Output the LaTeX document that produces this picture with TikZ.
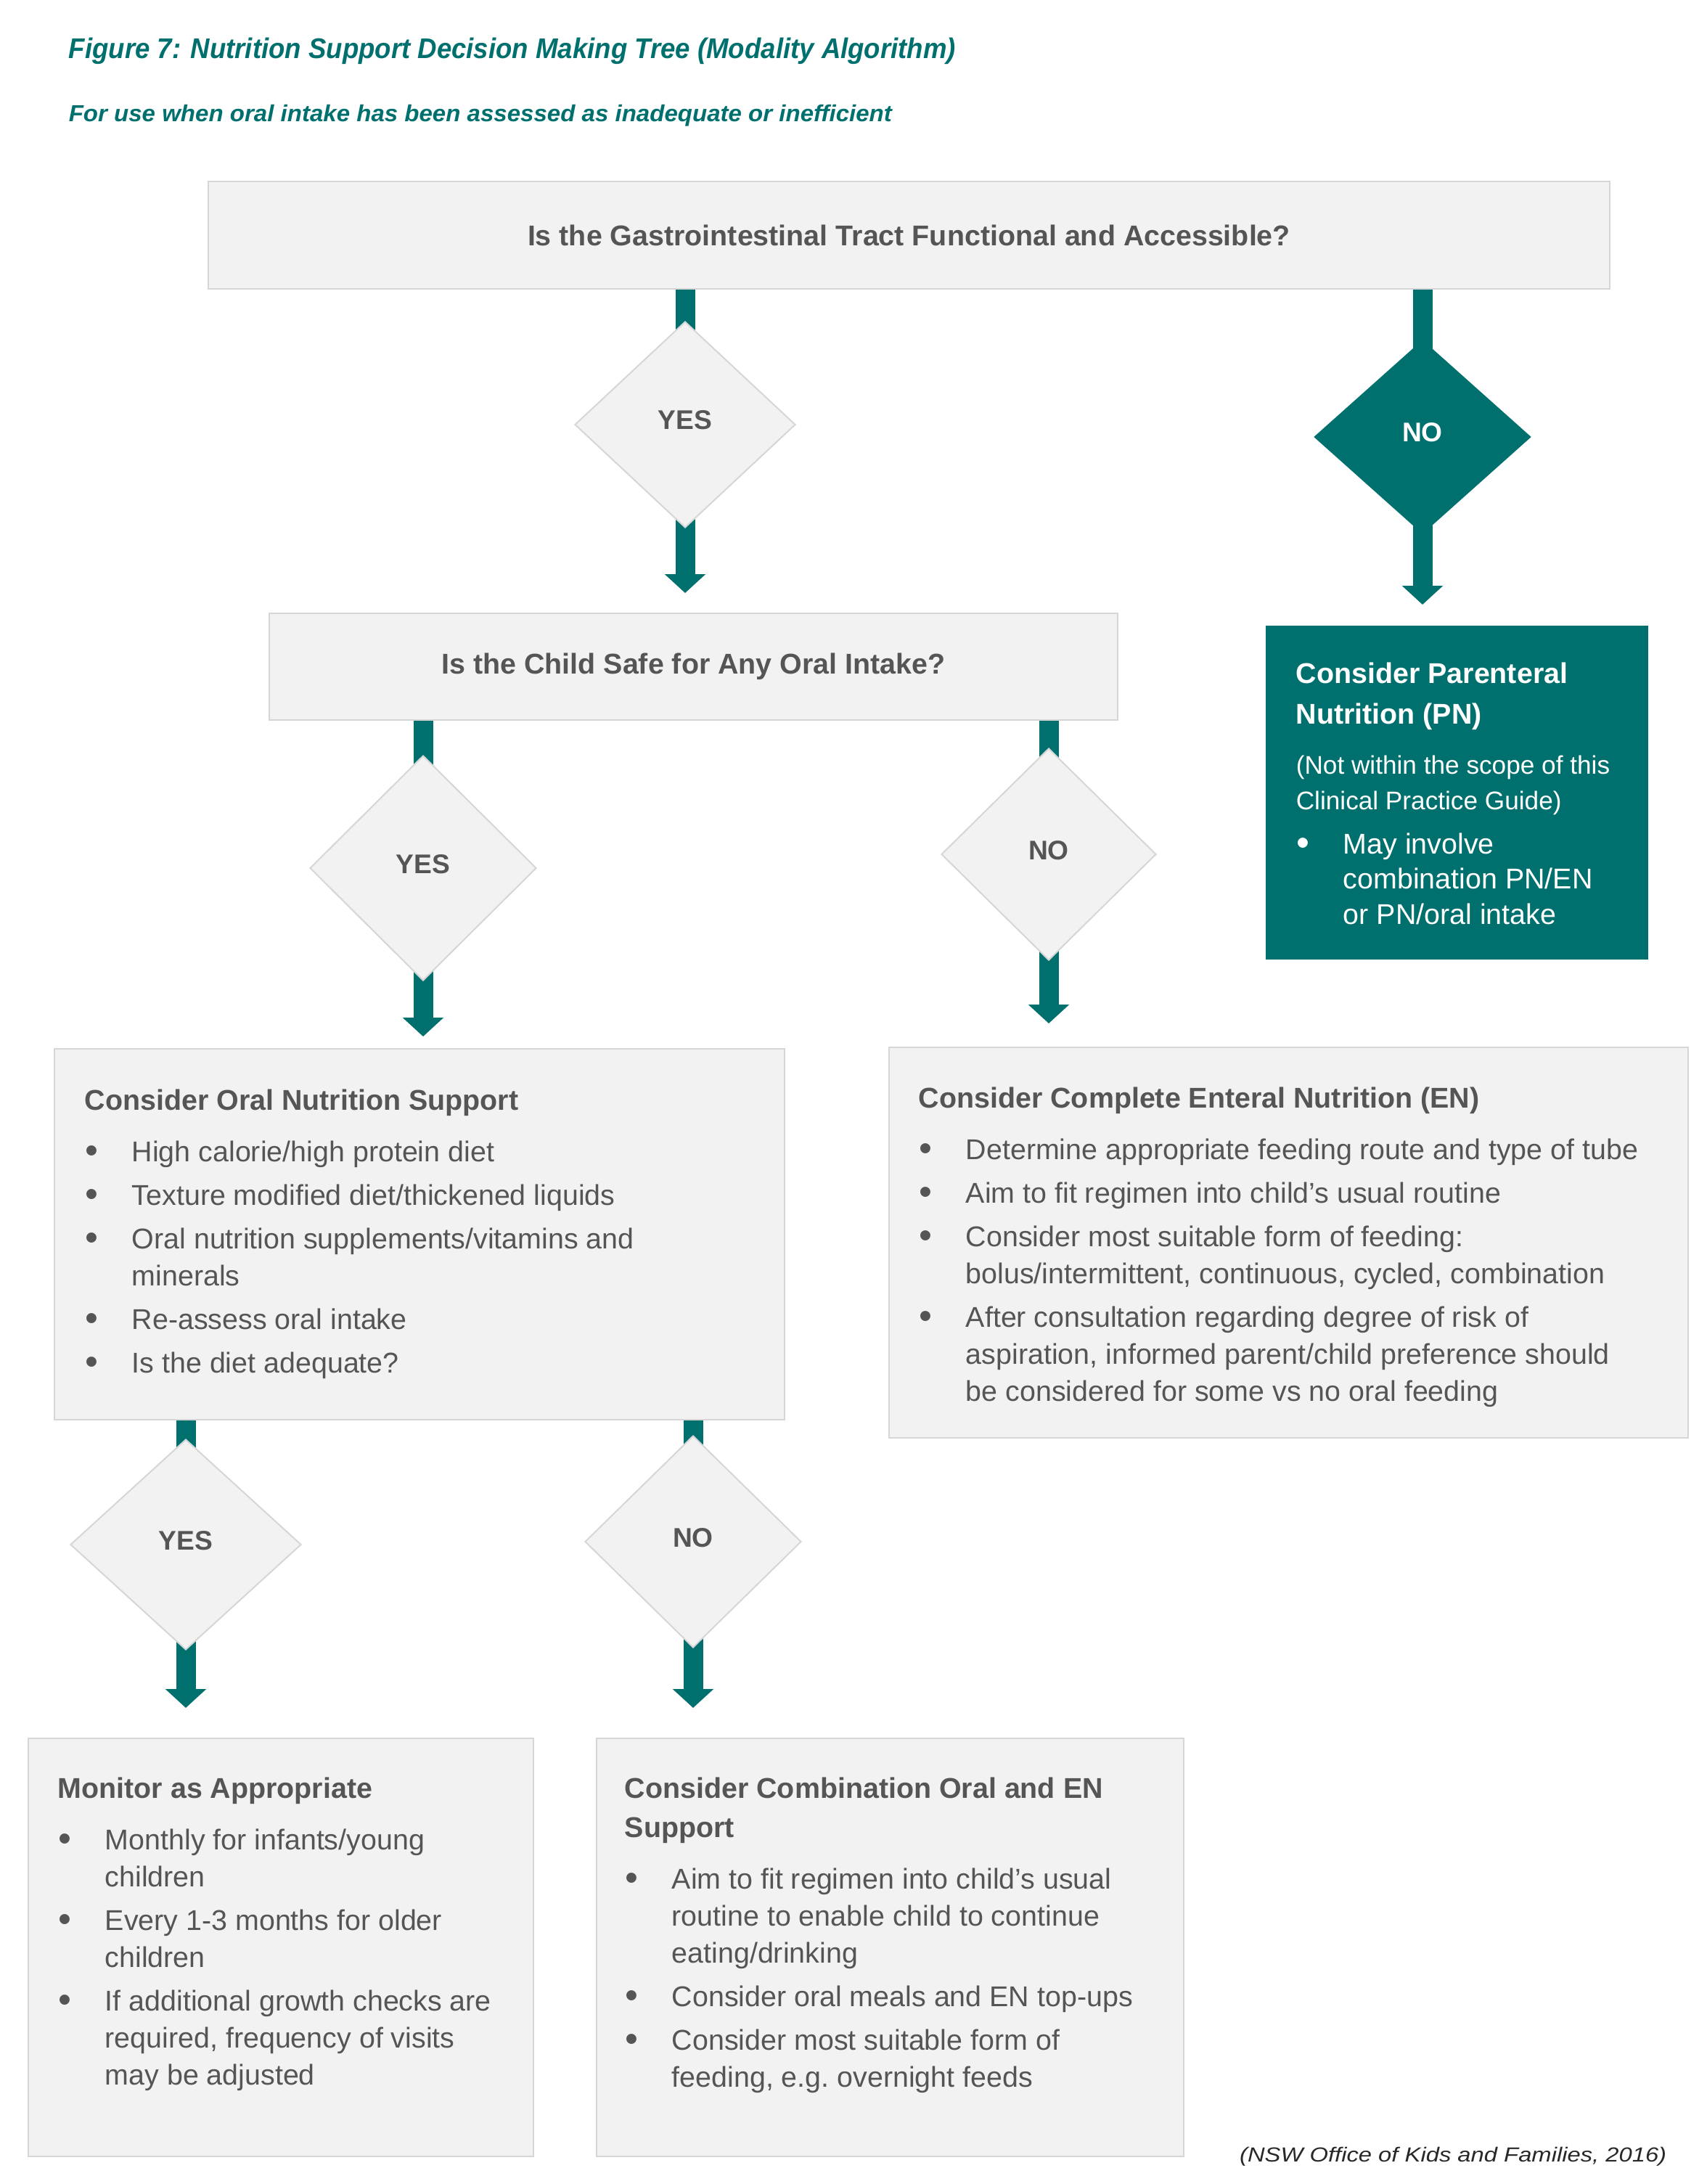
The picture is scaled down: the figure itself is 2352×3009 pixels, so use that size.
\documentclass[tikz,border=0pt]{standalone}
\usepackage{fontspec}
\setmainfont{Liberation Sans}
\usepackage{graphicx}
\usetikzlibrary{shapes.geometric,arrows.meta,calc}
\definecolor{teal7}{RGB}{0,112,111}
\definecolor{boxfill}{RGB}{242,242,242}
\definecolor{boxline}{RGB}{214,214,214}
\definecolor{txt}{RGB}{85,85,85}
\definecolor{foot}{RGB}{40,40,40}
\pgfdeclarelayer{bg}
\pgfsetlayers{bg,main}
\newcommand{\bitem}[1]{\par\hangindent=16.25pt\hangafter=1\noindent\makebox[16.25pt][l]{\hspace{0.2pt}\raisebox{-0.6pt}{\scalebox{1.3}{\textbullet}}}#1}
\newcommand{\boxtext}[1]{\parbox[t]{300pt}{\fontsize{9.85pt}{12.75pt}\selectfont\parindent=0pt\parskip=2.25pt #1}}
\newcommand{\pntext}[1]{\parbox[t]{300pt}{\fontsize{9.85pt}{12.2pt}\selectfont\parindent=0pt\parskip=3pt #1}}
\tikzset{
  gbox/.style={draw=boxline, fill=boxfill, line width=0.5pt, inner sep=0pt, anchor=north west},
  tbox/.style={fill=teal7, inner sep=0pt, anchor=north west},
  gdia/.style={diamond, draw=boxline, fill=boxfill, line width=0.5pt, inner sep=0pt, text depth=3pt, text=txt, font=\fontsize{9.3pt}{11pt}\selectfont\bfseries},
  tdia/.style={diamond, fill=teal7, inner sep=0pt, text depth=3pt, text=white, font=\fontsize{9.3pt}{11pt}\selectfont\bfseries},
  conn/.style={draw=teal7, line width=6.75pt},
  tipconn/.style={conn, -{Triangle[width=13.75pt,length=6.5pt]}},
  txtblk/.style={anchor=base west, inner sep=0pt, text=txt},
  qtext/.style={font=\fontsize{9.85pt}{12pt}\selectfont\bfseries, text=txt}
}
\begin{document}
\begin{tikzpicture}[x=0.25pt,y=-0.25pt]
\useasboundingbox (0,0) rectangle (2352,3009);
\begin{pgfonlayer}{bg}
\fill[white] (0,0) rectangle (2352,3009);
\end{pgfonlayer}

% titles
\node[anchor=base west, inner sep=0pt, text=teal7] (title) at (94,80)
  {\resizebox{305.5pt}{\height}{\fontsize{9.8pt}{12pt}\selectfont\bfseries\itshape Figure 7: Nutrition Support Decision Making Tree (Modality Algorithm)}};
\node[anchor=base west, inner sep=0pt, text=teal7] (subtitle) at (94,167)
  {\resizebox{283.5pt}{\height}{\fontsize{8pt}{10pt}\selectfont\bfseries\itshape For use when oral intake has been assessed as inadequate or inefficient}};

% boxes
\node[gbox, minimum width=482.75pt, minimum height=37pt, qtext] (top) at (286,249)
  {Is the Gastrointestinal Tract Functional and Accessible?};
\node[gbox, minimum width=292.25pt, minimum height=36.75pt, qtext] (q2) at (370,844)
  {Is the Child Safe for Any Oral Intake?};
\node[tbox, minimum width=131.75pt, minimum height=115pt] (pn) at (1743,861) {};
\node[gbox, minimum width=251.5pt, minimum height=127.75pt] (oral) at (74,1444) {};
\node[gbox, minimum width=275.25pt, minimum height=134.5pt] (en) at (1224,1442) {};
\node[gbox, minimum width=174pt, minimum height=144pt] (mon) at (38,2394) {};
\node[gbox, minimum width=202.25pt, minimum height=144pt] (comb) at (821,2394) {};

% diamonds
\node[gdia, minimum width=76pt, minimum height=71pt] (d1) at (944,585) {YES};
\node[tdia, minimum width=75pt, minimum height=67pt] (d2) at (1960,602) {NO};
\node[gdia, minimum width=78pt, minimum height=77.5pt] (d3) at (583,1196) {YES};
\node[gdia, minimum width=74pt, minimum height=73pt] (d4) at (1445,1177) {NO};
\node[gdia, minimum width=79.5pt, minimum height=72.5pt] (d5) at (256,2128) {YES};
\node[gdia, minimum width=74.5pt, minimum height=73pt] (d6) at (955,2124) {NO};

% box texts
\node[txtblk] (oraltxt) at ($(oral.north west)+(42,85)$) {\boxtext{%
  {\bfseries Consider Oral Nutrition Support}\par\vspace{2.75pt}%
  \bitem{High calorie/high protein diet}%
  \bitem{Texture modified diet/thickened liquids}%
  \bitem{Oral nutrition supplements/vitamins and\newline minerals}%
  \bitem{Re-assess oral intake}%
  \bitem{Is the diet adequate?}}};

\node[txtblk] (entxt) at ($(en.north west)+(41,84)$) {\boxtext{%
  {\bfseries Consider Complete Enteral Nutrition (EN)}\par\vspace{2.75pt}%
  \bitem{Determine appropriate feeding route and type of tube}%
  \bitem{Aim to fit regimen into child’s usual routine}%
  \bitem{Consider most suitable form of feeding:\newline bolus/intermittent, continuous, cycled, combination}%
  \bitem{After consultation regarding degree of risk of\newline aspiration, informed parent/child preference should\newline be considered for some vs no oral feeding}}};

\node[txtblk, text=white] (pntxt) at ($(pn.north west)+(42,80)$) {\pntext{%
  {\bfseries Consider Parenteral\\[1.8pt]Nutrition (PN)}\par\vspace{2.05pt}%
  {\fontsize{8.8pt}{12.25pt}\selectfont (Not within the scope of this\newline Clinical Practice Guide)\par}%
  \bitem{May involve\newline combination PN/EN\newline or PN/oral intake}}};

\node[txtblk] (montxt) at ($(mon.north west)+(41,83)$) {\boxtext{%
  {\bfseries Monitor as Appropriate}\par\vspace{2.75pt}%
  \bitem{Monthly for infants/young\newline children}%
  \bitem{Every 1-3 months for older\newline children}%
  \bitem{If additional growth checks are\newline required, frequency of visits\newline may be adjusted}}};

\node[txtblk] (combtxt) at ($(comb.north west)+(39,83)$) {\boxtext{%
  {\bfseries Consider Combination Oral and EN\\[0.75pt]Support}\par\vspace{2.75pt}%
  \bitem{Aim to fit regimen into child’s usual\newline routine to enable child to continue\newline eating/drinking}%
  \bitem{Consider oral meals and EN top-ups}%
  \bitem{Consider most suitable form of\newline feeding, e.g.\ overnight feeds}}};

% footer
\node[anchor=base east, inner sep=0pt, text=foot] (src) at (2297,2978)
  {\resizebox{147pt}{\height}{\fontsize{7pt}{9pt}\selectfont\itshape (NSW Office of Kids and Families, 2016)}};

% connectors
\begin{pgfonlayer}{bg}
\draw[conn] (d1.center |- top.south) -- (d1.center);
\draw[tipconn, shorten >=6.75pt] (d1.center) -- (d1.center |- q2.north);
\draw[conn] (d2.center |- top.south) -- (d2.center);
\draw[tipconn, shorten >=7pt] (d2.center) -- (d2.center |- pn.north);
\draw[conn] (d3.center |- q2.south) -- (d3.center);
\draw[tipconn, shorten >=4pt] (d3.center) -- (d3.center |- oral.north);
\draw[conn] (d4.center |- q2.south) -- (d4.center);
\draw[tipconn, shorten >=8pt] (d4.center) -- (d4.center |- en.north);
\draw[conn] (d5.center |- oral.south) -- (d5.center);
\draw[tipconn, shorten >=10.25pt] (d5.center) -- (d5.center |- mon.north);
\draw[conn] (d6.center |- oral.south) -- (d6.center);
\draw[tipconn, shorten >=10.25pt] (d6.center) -- (d6.center |- comb.north);
\end{pgfonlayer}
\end{tikzpicture}
\end{document}
